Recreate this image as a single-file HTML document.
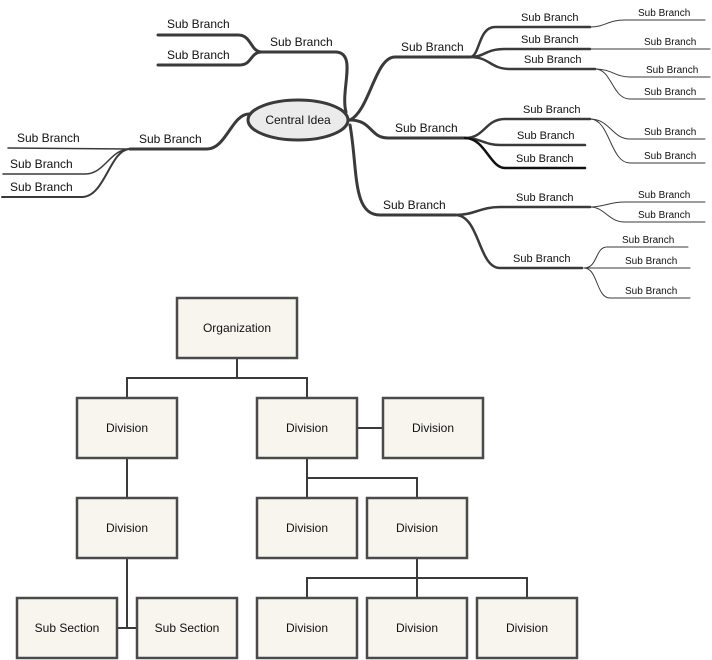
<!DOCTYPE html>
<html><head><meta charset="utf-8"><style>
html,body{margin:0;padding:0;background:#fff;width:712px;height:660px;overflow:hidden}
svg text{font-family:"Liberation Sans",sans-serif;fill:#111}
</style></head><body>
<svg width="712" height="660" viewBox="0 0 712 660" xmlns="http://www.w3.org/2000/svg">
<g fill="none" stroke="#3a3a3a" stroke-linecap="round">
<!-- top-left branch -->
<path d="M346,112 C340,90 358,52 335,52 L262,52" stroke-width="3"/>
<path d="M262,52 C250,52 252,35 238,35 L158,35" stroke-width="3"/>
<path d="M262,52 C250,52 252,65 240,65 L158,65" stroke-width="3"/>
<!-- left branch -->
<path d="M249,114 C232,114 226,149 207,149 L130,149" stroke-width="3"/>
<path d="M130,149 L8,148" stroke-width="1.5"/>
<path d="M130,149 C110,149 105,174 85,174 L3,174" stroke-width="1.5"/>
<path d="M130,149 C110,149 105,197 82,197 L2,197" stroke-width="2"/>
<!-- right top -->
<path d="M350,120 C370,110 375,57 395,57 L470,57" stroke-width="3"/>
<path d="M470,57 C480,57 478,27 495,27 L590,27" stroke-width="2.5"/>
<path d="M470,57 C485,57 485,49 505,49 L590,49" stroke-width="2.5"/>
<path d="M470,57 C490,57 490,69 510,69 L595,69" stroke-width="2.5"/>
<path d="M590,27 C605,27 608,20 625,20 L705,20" stroke-width="1"/>
<path d="M590,49 L710,49" stroke-width="1"/>
<path d="M595,69 C612,69 615,77 630,77 L710,77" stroke-width="1"/>
<path d="M595,69 C612,69 612,99 630,99 L705,99" stroke-width="1"/>
<!-- right middle -->
<path d="M350,120 C372,120 370,138 388,138 L465,138" stroke-width="3"/>
<path d="M465,138 C485,138 485,119 505,119 L590,119" stroke-width="2.5"/>
<path d="M465,138 C480,138 485,145 500,145 L585,145" stroke-width="2.5"/>
<path d="M465,138 C485,138 490,168 505,168 L585,168" stroke-width="2.5" stroke="#111"/>
<path d="M590,119 C610,119 612,139 630,139 L705,139" stroke-width="1"/>
<path d="M590,119 C610,119 610,163 630,163 L705,163" stroke-width="1"/>
<!-- right bottom -->
<path d="M350,125 C358,170 352,215 380,215 L455,215" stroke-width="3"/>
<path d="M455,215 C475,215 480,207 500,207 L590,207" stroke-width="2.5"/>
<path d="M455,215 C480,215 478,268 500,268 L582,268" stroke-width="2.5"/>
<path d="M590,207 C605,207 608,202 625,202 L705,202" stroke-width="1"/>
<path d="M590,207 C605,207 608,222 625,222 L705,222" stroke-width="1"/>
<path d="M584,268 C598,268 595,247 607,247 L688,247" stroke-width="1"/>
<path d="M584,268 L690,268" stroke-width="1"/>
<path d="M584,268 C598,268 596,298 610,298 L690,298" stroke-width="1"/>
</g>
<ellipse cx="298" cy="120" rx="50" ry="20" fill="#ebebeb" stroke="#3a3a3a" stroke-width="3"/>
<g font-size="12">
<text x="298" y="124" text-anchor="middle">Central Idea</text>
<text x="167" y="28">Sub Branch</text>
<text x="167" y="59">Sub Branch</text>
<text x="270" y="46">Sub Branch</text>
<text x="17" y="142">Sub Branch</text>
<text x="10" y="168">Sub Branch</text>
<text x="10" y="191">Sub Branch</text>
<text x="139" y="143">Sub Branch</text>
<text x="401" y="51">Sub Branch</text>
<text x="395" y="132">Sub Branch</text>
<text x="383" y="209">Sub Branch</text>
</g>
<g font-size="11">
<text x="521" y="21">Sub Branch</text>
<text x="521" y="43">Sub Branch</text>
<text x="524" y="63">Sub Branch</text>
<text x="523" y="113">Sub Branch</text>
<text x="517" y="139">Sub Branch</text>
<text x="516" y="162">Sub Branch</text>
<text x="516" y="201">Sub Branch</text>
<text x="513" y="262">Sub Branch</text>
</g>
<g font-size="10">
<text x="638" y="16">Sub Branch</text>
<text x="644" y="45">Sub Branch</text>
<text x="646" y="73">Sub Branch</text>
<text x="644" y="95">Sub Branch</text>
<text x="644" y="135">Sub Branch</text>
<text x="644" y="159">Sub Branch</text>
<text x="638" y="198">Sub Branch</text>
<text x="638" y="218">Sub Branch</text>
<text x="622" y="243">Sub Branch</text>
<text x="625" y="264">Sub Branch</text>
<text x="625" y="294">Sub Branch</text>
</g>
<!-- org chart connectors -->
<g fill="none" stroke="#3a3a3a" stroke-width="2">
<path d="M237,358 V378 M127,398 V378 H307 V398"/>
<path d="M127,458 V498 M127,558 V628 M117,628 H137"/>
<path d="M357,428 H383"/>
<path d="M307,458 V498 M307,478 H417 V498"/>
<path d="M417,558 V598 M307,598 V578 H527 V598"/>
</g>
<g fill="#f7f5ee" stroke="#4a4a4a" stroke-width="2.5">
<rect x="177" y="298" width="120" height="60"/>
<rect x="77" y="398" width="100" height="60"/>
<rect x="257" y="398" width="100" height="60"/>
<rect x="383" y="398" width="100" height="60"/>
<rect x="77" y="498" width="100" height="60"/>
<rect x="257" y="498" width="100" height="60"/>
<rect x="367" y="498" width="100" height="60"/>
<rect x="17" y="598" width="100" height="60"/>
<rect x="137" y="598" width="100" height="60"/>
<rect x="257" y="598" width="100" height="60"/>
<rect x="367" y="598" width="100" height="60"/>
<rect x="477" y="598" width="100" height="60"/>
</g>
<g font-size="12" text-anchor="middle">
<text x="237" y="332">Organization</text>
<text x="127" y="432">Division</text>
<text x="307" y="432">Division</text>
<text x="433" y="432">Division</text>
<text x="127" y="532">Division</text>
<text x="307" y="532">Division</text>
<text x="417" y="532">Division</text>
<text x="67" y="632">Sub Section</text>
<text x="187" y="632">Sub Section</text>
<text x="307" y="632">Division</text>
<text x="417" y="632">Division</text>
<text x="527" y="632">Division</text>
</g>
</svg>
</body></html>
